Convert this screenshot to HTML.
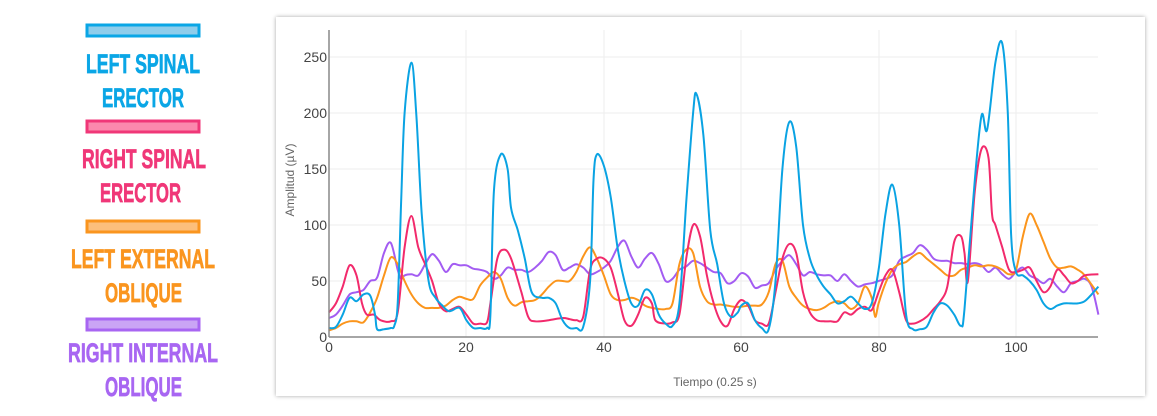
<!DOCTYPE html>
<html><head><meta charset="utf-8"><style>
html,body{margin:0;padding:0;background:#fff;width:1157px;height:416px;overflow:hidden}
.card{position:absolute;left:276px;top:17px;width:869px;height:379px;background:#fff;box-shadow:0 0 4px rgba(0,0,0,0.35)}
svg{position:absolute;left:0;top:0}
.lg{font-family:"Liberation Sans Narrow","Liberation Sans",sans-serif;font-weight:bold;font-size:27px;stroke-width:0.7}
.tk{font-family:"Liberation Sans",sans-serif;font-size:14px;fill:#444}
</style></head><body>
<div class="card"></div>
<svg width="1157" height="416" xmlns="http://www.w3.org/2000/svg">
<rect x="87" y="25" width="112" height="11" fill="#8fcdeb" stroke="#0aa6e6" stroke-width="3"/>
<rect x="87" y="121" width="112" height="11" fill="#fb89ad" stroke="#f03778" stroke-width="3"/>
<rect x="87" y="221" width="112" height="11" fill="#fcbf7c" stroke="#fa951f" stroke-width="3"/>
<rect x="87" y="319" width="112" height="11" fill="#caa5f5" stroke="#a866f2" stroke-width="3"/>
<g class="lg">
<text x="86" y="73" textLength="114" lengthAdjust="spacingAndGlyphs" fill="#0aa6e6" stroke="#0aa6e6">LEFT SPINAL</text>
<text x="102" y="107" textLength="82" lengthAdjust="spacingAndGlyphs" fill="#0aa6e6" stroke="#0aa6e6">ERECTOR</text>
<text x="82" y="168" textLength="124" lengthAdjust="spacingAndGlyphs" fill="#f03778" stroke="#f03778">RIGHT SPINAL</text>
<text x="100" y="202" textLength="81" lengthAdjust="spacingAndGlyphs" fill="#f03778" stroke="#f03778">ERECTOR</text>
<text x="71" y="268" textLength="144" lengthAdjust="spacingAndGlyphs" fill="#fa951f" stroke="#fa951f">LEFT EXTERNAL</text>
<text x="105" y="302" textLength="77" lengthAdjust="spacingAndGlyphs" fill="#fa951f" stroke="#fa951f">OBLIQUE</text>
<text x="68" y="362" textLength="150" lengthAdjust="spacingAndGlyphs" fill="#a866f2" stroke="#a866f2">RIGHT INTERNAL</text>
<text x="105" y="396" textLength="77" lengthAdjust="spacingAndGlyphs" fill="#a866f2" stroke="#a866f2">OBLIQUE</text>
</g>
<g stroke="#eeeeee" stroke-width="1">
<line x1="466" y1="30" x2="466" y2="337"/><line x1="604" y1="30" x2="604" y2="337"/>
<line x1="741" y1="30" x2="741" y2="337"/><line x1="879" y1="30" x2="879" y2="337"/>
<line x1="1016" y1="30" x2="1016" y2="337"/>
<line x1="329" y1="281" x2="1098" y2="281"/><line x1="329" y1="225" x2="1098" y2="225"/>
<line x1="329" y1="169" x2="1098" y2="169"/><line x1="329" y1="113" x2="1098" y2="113"/>
<line x1="329" y1="57" x2="1098" y2="57"/>
</g>
<g class="tk" text-anchor="end">
<text x="327" y="342">0</text><text x="327" y="286">50</text><text x="327" y="230">100</text>
<text x="327" y="174">150</text><text x="327" y="118">200</text><text x="327" y="62">250</text>
</g>
<g class="tk" text-anchor="middle">
<text x="329" y="352">0</text><text x="466" y="352">20</text><text x="604" y="352">40</text>
<text x="741" y="352">60</text><text x="879" y="352">80</text><text x="1016" y="352">100</text>
<text x="715" y="386" font-size="12" fill="#666">Tiempo (0.25 s)</text>
<text transform="translate(294,180) rotate(-90)" font-size="12" fill="#666">Amplitud (µV)</text>
</g>
<g id="series" fill="none" stroke-width="2" stroke-linejoin="round"></g>
<line x1="329" y1="30" x2="329" y2="337" stroke="#888" stroke-width="1.5"/>
<line x1="329" y1="337" x2="1098" y2="337" stroke="#888" stroke-width="1.5"/>
</svg>
<script>
var S=[
["#a35cf2",[0,17,1,20,2,28,3,38,4,40,5,42,6,50,7,53,8,75,9,84,10,60,10.5,52,11,55,12,56,13,55,14,65,15,74,16,68,17,58,18,65,19,64,20,64,21,61,22,60,23,58,24,52,25,55,26,62,27,60,28,60,29,58,30,62,31,68,32,76,33,73,34,60,35,62,36,65,37,62,38,56,39,58,40,62,41,68,42,80,43,86,44,72,45,62,46,70,47,75,48,65,49,50,50,52,51,60,52,63,53,68,54,66,55,62,56,58,57,57,58,48,59,50,60,57,61,54,62,44,63,46,64,48,65,60,66,68,67,73,68,65,69,55,70,58,71,56,72,55,73,55,74,50,75,56,76,50,77,45,78,47,79,48,80,50,81,52,82,55,83,68,84,72,85,75,86,82,87,78,88,70,89,68,90,68,91,66,92,66,93,65,94,66,95,64,96,58,97,62,98,56,99,52,100,58,101,62,102,55,103,52,104,48,105,52,106,45,107,40,108,48,109,50,110,52,111,45,112,20]],
["#fb951c",[0,6,1,8,2,12,3,14,4,14,5,13,6,22,7,35,8,55,9,71,10,65,11,50,12,38,13,30,14,26,15,26,16,26,17,28,18,33,19,36,20,34,21,34,22,46,23,53,24,58,25,52,26,35,27,28,28,31,29,32,30,33,31,38,32,45,33,50,34,50,35,50,36,58,37,72,38,80,39,70,40,55,41,38,42,33,43,33,44,35,45,33,46,28,47,26,48,25,49,25,50,30,51,65,52,78,53,75,54,45,55,32,56,29,57,29,58,28,59,27,60,27,61,28,62,28,63,29,64,40,65,65,66,68,67,45,68,35,69,28,70,25,71,24,72,26,73,30,74,32,75,30,76,25,77,30,78,45,79,35,79.5,18,80,30,81,48,82,60,83,65,84,67,85,72,86,75,87,70,88,65,89,60,90,55,91,55,92,60,93,62,94,64,95,63,96,64,97,63,98,60,99,56,100,60,101,90,102,110,103,100,104,85,105,70,106,62,107,62,108,63,109,60,110,55,112,38]],
["#f22a6c",[0,22,1,30,2,45,3,64,4,55,4.8,30,5.5,20,6.5,20,7.5,15,9,14,10,22,11,80,12,108,13,80,14,65,15,50,16,30,17,23,18,25,19,27,20,20,21,12,22,12,23,13,23.5,30,24.5,70,25.5,78,26.5,70,28,40,29,18,30,14,32,15,34,17,35,16,36,15,37,18,38,60,39,70,40,70,41,62,42,40,43,15,44,10,45,20,46,35,47,30,47.5,15,49,12,50,13,51,20,52,70,53,100,54,90,55,55,56,30,57,14,58,10,59,25,60,33,61,28,62,15,63,12,64,12,65,40,66,70,67,83,68,75,69,40,70,22,71,15,72,14,73,14,74,14,75,22,76,20,77,25,78,27,79,24,80,40,81,55,82,60,83,40,84,15,85,12,86,14,87,18,88,25,89,32,90,45,91,85,92,90,92.5,75,93,50,94,130,95,168,96,160,96.5,110,97,100,98,80,99,60,100,58,101,60,102,62,103,50,104,40,105,45,106,60,107,55,108,48,109,50,110,55,112,56]],
["#0aa3e3",[0,8,1,9,2,20,3,35,4,32,5,38,6,37,6.7,20,7,7,8,7,9,8,9.5,10,10,30,10.5,120,11,200,12,245,12.7,200,13.5,110,14.5,50,15.5,35,16.5,28,17.5,23,19,26,20,15,21,8,22,8,23,8,23.5,20,24,130,25,163,26,150,26.5,115,27.5,95,28.5,70,29.5,40,31,35,32,35,33,30,34,15,35,8,36,8,37,9,38,50,38.5,140,39,163,40,153,41,125,42,80,43,50,44,30,45,28,46,42,47,38,48,20,49,12,50,10,51,30,52,120,53,200,53.5,217,54.5,180,55.5,95,56.5,65,57.5,30,58.5,18,59.5,22,60,28,61,30,62,15,63,8,64,7,65,50,66,150,67,192,68,170,69,100,70,70,71,55,72,45,73,38,74,30,75,32,76,36,77,30,78,25,79,30,80,60,81,110,82,136,83,100,84,20,85,7,86,7,87,9,88,22,89,30,90,28,91,20,92,10,92.5,25,94,140,95,198,95.8,185,97,245,98,262,98.8,200,99.3,90,100,58,101,55,102,50,103,42,104,30,105,25,106,28,107,30,108,30,109,30,110,32,111,38,112,45]]];
var g=document.getElementById('series');
S.forEach(function(s){var d=s[1],p=[];for(var i=0;i<d.length;i+=2)p.push([329+d[i]*6.87,337-d[i+1]*1.12]);
var path='M'+p[0][0].toFixed(1)+','+p[0][1].toFixed(1);
for(var i=0;i<p.length-1;i++){var a=p[i-1]||p[i],b=p[i],c=p[i+1],e=p[i+2]||c;
path+=' C'+(b[0]+(c[0]-a[0])/6).toFixed(1)+','+(b[1]+(c[1]-a[1])/6).toFixed(1)+' '+(c[0]-(e[0]-b[0])/6).toFixed(1)+','+(c[1]-(e[1]-b[1])/6).toFixed(1)+' '+c[0].toFixed(1)+','+c[1].toFixed(1);}
var el=document.createElementNS('http://www.w3.org/2000/svg','path');el.setAttribute('d',path);el.setAttribute('stroke',s[0]);g.appendChild(el);});
</script>
</body></html>
